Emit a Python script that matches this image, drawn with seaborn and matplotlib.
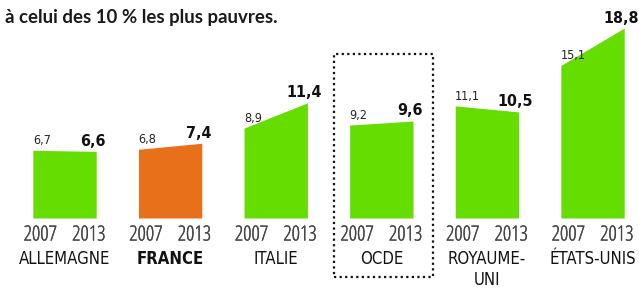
import pandas as pd
import matplotlib.pyplot as plt
import matplotlib.patheffects as pe
import seaborn as sns
from matplotlib.patches import Rectangle

# Data (ratio top 10% / bottom 10%)
countries = ["ALLEMAGNE", "FRANCE", "ITALIE", "OCDE", "ROYAUME-\nUNI", "ÉTATS-UNIS"]
v2007 = [6.7, 6.8, 8.9, 9.2, 11.1, 15.1]
v2013 = [6.6, 7.4, 11.4, 9.6, 10.5, 18.8]
years = ["2007", "2013"]
highlight = "FRANCE"
boxed = "OCDE"


def fmt(v):
    return f"{v:.1f}".replace(".", ",")


def main():
    df = pd.DataFrame({"pays": countries, "y2007": v2007, "y2013": v2013})

    sns.set_theme(style="white")
    plt.rcParams["font.family"] = ["DejaVu Sans"]
    plt.rcParams["font.stretch"] = "condensed"

    fig = plt.figure(figsize=(6.39, 2.88), dpi=100)
    ax = fig.add_axes([0, 0, 1, 1])
    ax.set_xlim(-0.611, 5.44)
    ax.set_ylim(-6.93, 21.58)
    ax.axis("off")

    green = "#66dd00"
    orange = "#e8701a"
    hw = 0.3
    # thin condensed face for the years, thickened a little
    thick = [pe.withStroke(linewidth=0.25, foreground="#444444")]

    for i, row in df.iterrows():
        col = orange if row.pays == highlight else green
        ax.fill_between([i - hw, i + hw], [0, 0], [row.y2007, row.y2013],
                        color=col, linewidth=0)
        # values
        ax.text(i - hw, row.y2007 + 0.6, fmt(row.y2007), ha="left", va="baseline",
                fontsize=9, color="#222222")
        ax.text(i + hw - 0.03, row.y2013 + 0.55, fmt(row.y2013), ha="center", va="baseline",
                fontsize=11.5, fontweight="bold", color="#111111")
        # years
        for dx, yr in zip([-0.23, 0.23], years):
            ax.text(i + dx, -2.23, yr, ha="center", va="baseline", fontsize=15,
                    color="#444444", family=["Open Sans", "DejaVu Sans"],
                    path_effects=thick)
        # country name, one text per line
        for k, line in enumerate(row.pays.split("\n")):
            ax.text(i, -4.6 - 2.05 * k, line, ha="center", va="baseline",
                    fontsize=12, color="#111111",
                    fontweight="bold" if row.pays == highlight else "normal")

    # dotted frame around OCDE
    j = countries.index(boxed)
    ax.add_patch(Rectangle((j - 0.45, -5.84), 0.94, 22.1, fill=False,
                           linestyle=(0, (1, 1.5)), linewidth=1.6, edgecolor="#111111"))

    fig.text(0.008, 0.94, "à celui des 10 % les plus pauvres.", ha="left", va="center",
             fontsize=13.4, fontweight="bold", color="#1a1a1a",
             family=["Lato", "DejaVu Sans"], fontstretch="normal")

    fig.savefig("out.png", dpi=100)


if __name__ == "__main__":
    main()
